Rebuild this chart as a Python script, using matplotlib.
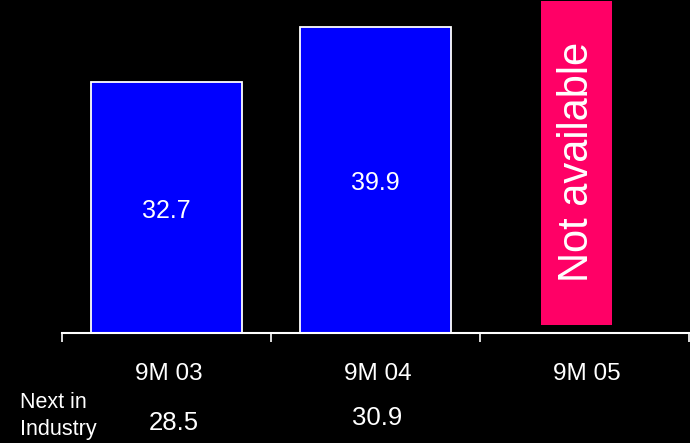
import matplotlib
matplotlib.use("Agg")
import matplotlib.pyplot as plt
import matplotlib.transforms as mtransforms

plt.rcParams['font.family'] = ['Liberation Sans', 'DejaVu Sans']

categories = ["9M 03", "9M 04", "9M 05"]
values = [32.7, 39.9]
value_labels = ["32.7", "39.9"]
next_in_industry = ["28.5", "30.9"]
na_label = "Not available"
na_bottom = 1.0
na_top = 43.3

fig = plt.figure(figsize=(6.90, 4.43), dpi=100, facecolor="black")
ax = fig.add_axes([62 / 690, 110 / 443, 627 / 690, 333 / 443])
ax.set_facecolor("black")

x_idx = list(range(len(values)))
ax.bar(x_idx, values, width=0.72, color="#0000FF", edgecolor="white", linewidth=1.3, zorder=3)
for i, (v, lab) in enumerate(zip(values, value_labels)):
    ax.text(i, v / 2 - 0.4, lab, color="white", fontsize=18, ha="center", va="center", zorder=4)

# placeholder bar for the unavailable period
ax.bar(len(values) - 0.04, na_top - na_bottom, bottom=na_bottom, width=0.34,
       color="#FF0066", edgecolor="none", zorder=3)
ax.text(len(values) - 0.035, (na_top + na_bottom) / 2 + 0.15, na_label, rotation=90,
        color="white", fontsize=30, ha="center", va="center", zorder=4)

ax.set_xlim(-0.5, len(categories) - 0.5)
ax.set_ylim(0, 43.4)

for s in ["top", "right", "left"]:
    ax.spines[s].set_visible(False)
ax.spines["bottom"].set_color("white")
ax.spines["bottom"].set_linewidth(1.5)
ax.spines["bottom"].set_zorder(5)

ax.set_yticks([])
ax.set_xticks([i - 0.5 for i in range(len(categories) + 1)])
ax.set_xticklabels([])
ax.tick_params(axis="x", direction="out", length=6.5, width=1.2, color="white")

trans = mtransforms.blended_transform_factory(ax.transData, ax.transAxes)
for i, c in enumerate(categories):
    ax.text(i + 0.01, -0.123, c, transform=trans, color="white", fontsize=17.5,
            ha="center", va="center", clip_on=False)

ni_offsets = [(0.035, -0.269), (0.01, -0.255)]
for i, lab in enumerate(next_in_industry):
    dx, yy = ni_offsets[i]
    ax.text(i + dx, yy, lab, transform=trans, color="white", fontsize=18.5,
            ha="center", va="center", clip_on=False)

fig.text(20 / 690, 1 - 402 / 443, "Next in", color="white", fontsize=15.5,
         ha="left", va="center")
fig.text(20 / 690, 1 - 429 / 443, "Industry", color="white", fontsize=15.5,
         ha="left", va="center")

fig.savefig("out.png", dpi=100, facecolor="black")
